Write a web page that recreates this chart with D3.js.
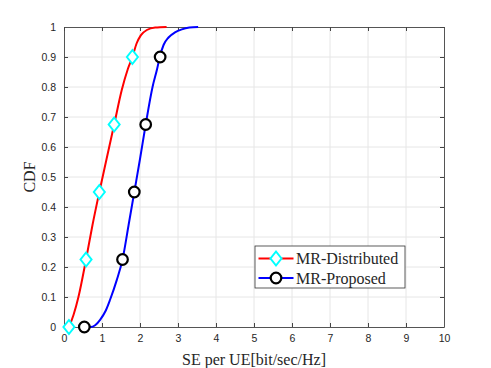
<!DOCTYPE html>
<html>
<head>
<meta charset="utf-8">
<script src="https://cdn.jsdelivr.net/npm/d3@7"></script>
<style>
  body { margin: 0; background: #fff; }
  svg text { fill: #262626; }
</style>
</head>
<body>
<script>
/* data: x = SE per UE, y = CDF level */
const distX = [0.13, 0.25, 0.38, 0.58, 0.75, 0.93, 1.12, 1.32, 1.52, 1.68, 1.80, 1.91, 2.02, 2.18, 2.40, 2.70];
const distY = [0, 0.04, 0.10, 0.225, 0.34, 0.45, 0.56, 0.675, 0.79, 0.86, 0.90, 0.945, 0.972, 0.99, 0.998, 1.0];

const propX = [0.535, 0.70, 0.82, 0.95, 1.10, 1.21, 1.39, 1.54, 1.70, 1.85, 2.00, 2.15, 2.33, 2.45, 2.52, 2.62, 2.75, 2.92, 3.10, 3.30, 3.53];
const propY = [0, 0, 0.006, 0.024, 0.055, 0.09, 0.157, 0.225, 0.34, 0.45, 0.56, 0.675, 0.80, 0.86, 0.90, 0.94, 0.965, 0.982, 0.992, 0.998, 1.0];

// marker positions (every 225th sample in the original)
const markLevels = [0, 0.225, 0.45, 0.675, 0.9];
const distMarkX = [0.13, 0.58, 0.93, 1.32, 1.80];
const propMarkX = [0.535, 1.54, 1.85, 2.15, 2.53];

const xTicks = d3.range(0, 11, 1);
const yTicks = d3.range(0, 11, 1).map(d => d / 10);

const seriesNames = ['MR-Distributed', 'MR-Proposed'];

// margins so the axes box lands where it sits in the picture
let margin = { top: 27, right: 47, bottom: 41, left: 64 },
  width = 491 - margin.left - margin.right,
  height = 368 - margin.top - margin.bottom;

const xScale = d3.scaleLinear().domain([0, 10]).range([0, width]);
const yScale = d3.scaleLinear().domain([0, 1]).range([height, 0]);

const svg = d3.select('body').append('svg')
  .attr('width', 491)
  .attr('height', 368)
  .append('g')
  .attr('transform', 'translate(' + margin.left + ',' + margin.top + ')');

/* grid */
svg.append('g').selectAll('line')
  .data(xTicks.slice(1, -1))
  .enter().append('line')
  .attr('x1', d => xScale(d)).attr('x2', d => xScale(d))
  .attr('y1', 0).attr('y2', height)
  .attr('stroke', '#e6e6e6');

svg.append('g').selectAll('line')
  .data(yTicks.slice(1, -1))
  .enter().append('line')
  .attr('y1', d => yScale(d)).attr('y2', d => yScale(d))
  .attr('x1', 0).attr('x2', width)
  .attr('stroke', '#e6e6e6');

/* axes: ticks pointing inward, on all four sides */
const fmt = d => d3.format('~g')(d);
const xAxis = d3.axisBottom(xScale).tickValues(xTicks).tickFormat(fmt).tickSizeInner(-4).tickSizeOuter(0).tickPadding(8);
const yAxis = d3.axisLeft(yScale).tickValues(yTicks).tickFormat(fmt).tickSizeInner(-4).tickSizeOuter(0).tickPadding(8);
const xTop = d3.axisTop(xScale).tickValues(xTicks).tickFormat('').tickSizeInner(-4).tickSizeOuter(0);
const yRight = d3.axisRight(yScale).tickValues(yTicks).tickFormat('').tickSizeInner(-4).tickSizeOuter(0);

function styleAxis(g) {
  g.selectAll('path').attr('stroke', '#555');
  g.selectAll('line').attr('stroke', '#444');
  g.selectAll('text')
    .style('font-family', '"Liberation Sans", Arial, sans-serif')
    .style('font-size', '10.5px')
    .attr('fill', '#262626');
}

svg.append('g').attr('transform', 'translate(0,' + height + ')').call(xAxis).call(styleAxis);
svg.append('g').call(yAxis).call(styleAxis);
svg.append('g').call(xTop).call(styleAxis);
svg.append('g').attr('transform', 'translate(' + width + ',0)').call(yRight).call(styleAxis);

/* curves */
const line = d3.line()
  .x(d => xScale(d[0]))
  .y(d => yScale(d[1]))
  .curve(d3.curveMonotoneX);

const series = [
  { name: seriesNames[0], pts: d3.zip(distX, distY), marks: d3.zip(distMarkX, markLevels), color: '#ff0000', mark: 'diamond' },
  { name: seriesNames[1], pts: d3.zip(propX, propY), marks: d3.zip(propMarkX, markLevels), color: '#0000ff', mark: 'circle' }
];

const diamond = 'M0,-7L5.5,0L0,7L-5.5,0Z';

function drawMarker(g, type) {
  if (type === 'diamond') {
    g.append('path').attr('d', diamond)
      .attr('fill', '#fff').attr('stroke', '#00ffff').attr('stroke-width', 2);
  } else {
    g.append('circle').attr('r', 5.3)
      .attr('fill', '#fff').attr('stroke', '#000').attr('stroke-width', 2.2);
  }
}

series.forEach(s => {
  svg.append('path')
    .datum(s.pts)
    .attr('fill', 'none')
    .attr('stroke', s.color)
    .attr('stroke-width', 2)
    .attr('d', line);
});

series.forEach(s => {
  svg.selectAll(null)
    .data(s.marks)
    .enter().append('g')
    .attr('transform', d => `translate(${xScale(d[0])},${yScale(d[1])})`)
    .each(function() { drawMarker(d3.select(this), s.mark); });
});

/* labels */
svg.append('text')
  .attr('x', width / 2)
  .attr('y', height + 38)
  .attr('text-anchor', 'middle')
  .style('font-family', '"Liberation Serif", "Times New Roman", serif')
  .style('font-size', '16px')
  .text('SE per UE[bit/sec/Hz]');

svg.append('text')
  .attr('transform', 'rotate(-90)')
  .attr('x', -height / 2)
  .attr('y', -29)
  .attr('text-anchor', 'middle')
  .style('font-family', '"Liberation Serif", "Times New Roman", serif')
  .style('font-size', '16px')
  .text('CDF');

/* legend */
const legend = svg.append('g')
  .attr('transform', `translate(${255 - margin.left},${246 - margin.top})`);

legend.append('rect')
  .attr('width', 150).attr('height', 42)
  .attr('fill', '#fff').attr('stroke', '#333').attr('stroke-width', 0.8);

const items = legend.selectAll('.legend')
  .data(series)
  .enter().append('g')
  .attr('class', 'legend')
  .attr('transform', (d, i) => `translate(0, ${12.5 + i * 19.5})`);

items.append('line')
  .attr('x1', 3.5).attr('x2', 38.5)
  .attr('stroke', d => d.color).attr('stroke-width', 2);

items.append('g')
  .attr('transform', 'translate(21,0)')
  .each(function(d) { drawMarker(d3.select(this), d.mark); });

items.append('text')
  .attr('x', 41)
  .attr('y', 5.5)
  .style('font-family', '"Liberation Serif", "Times New Roman", serif')
  .style('font-size', '16px')
  .text(d => d.name);
</script>
</body>
</html>
